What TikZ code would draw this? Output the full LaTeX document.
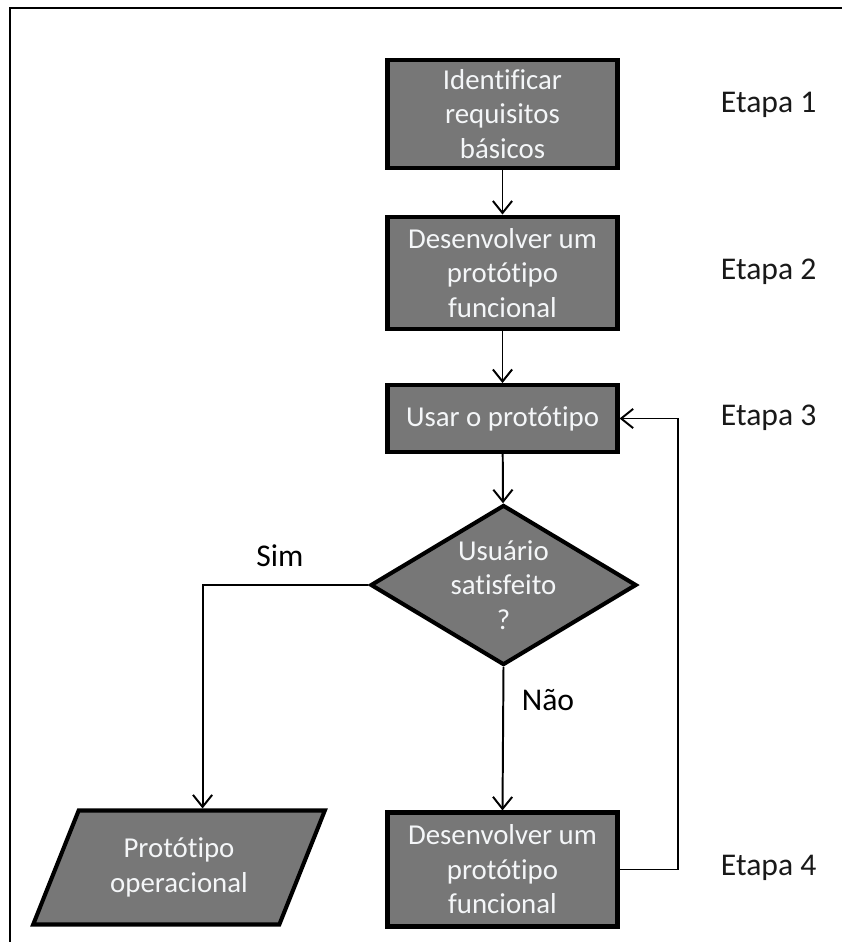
\documentclass[tikz,border=0pt]{standalone}
\usepackage{fontspec}
\setmainfont{Carlito}[Ligatures={NoCommon,NoRare}]
\usetikzlibrary{arrows.meta, positioning, shapes.geometric}
\definecolor{boxgray}{HTML}{777777}
\definecolor{boxtext}{HTML}{F4F6F8}

\begin{document}
\begin{tikzpicture}[x=0.025cm, y=-0.025cm,
    block/.style={rectangle, draw, line width=2.9pt, fill=boxgray, text=boxtext, align=center, minimum width=5.75cm, inner sep=2pt, font=\fontsize{20.5}{24.5}\selectfont},
    decision/.style={diamond, draw, line width=2.9pt, fill=boxgray, text=boxtext, align=center, aspect=1.67, inner sep=0pt, minimum width=6.65cm, minimum height=4cm, font=\fontsize{20.5}{24.5}\selectfont},
    result/.style={trapezium, trapezium left angle=64, trapezium right angle=116, trapezium stretches=true, draw, line width=2.9pt, fill=boxgray, text=boxtext, align=center, minimum width=7.3cm, minimum height=2.85cm, font=\fontsize{20.5}{24.5}\selectfont},
    stage/.style={anchor=west, text=black!90, font=\fontsize{22.5}{27}\selectfont},
    answer/.style={text=black, font=\fontsize{22.5}{27}\selectfont},
    flow/.style={line width=1.4pt, -{Straight Barb[length=3mm, width=4.8mm, line width=1.4pt]}}]
    \useasboundingbox (0,0) rectangle (842,942);
    \draw[line width=1.5pt] (10,942) -- (10,8) -- (842,8);

    % main column
    \node[block, minimum height=2.7cm] (ident) at (502.5,114) {Identificar\\requisitos\\básicos};
    \node[block, minimum height=2.82cm] (devel) at (502.5,273) {Desenvolver um\\protótipo\\funcional};
    \node[block, minimum height=1.67cm] (usar) at (502.5,418.5) {Usar o protótipo};
    \node[decision] (satisf) at (503.5,585) {Usuário\\satisfeito\\?};
    \node[block, minimum height=2.85cm] (revis) at (502.5,869.5) {Desenvolver um\\protótipo\\funcional};
    \node[result] (oper) at (179,867.5) {Protótipo\\operacional};

    % stage labels
    \node[stage] (et1) at (716,105) {Etapa 1};
    \node[stage] (et2) at (716,272) {Etapa 2};
    \node[stage] (et3) at (716,418) {Etapa 3};
    \node[stage] (et4) at (716,868) {Etapa 4};

    \node[answer] (sim) at (280,556) {Sim};
    \node[answer] (nao) at (548,700) {Não};

    \draw[flow] (ident) -- (devel);
    \draw[flow] (devel) -- (usar);
    \draw[flow] (usar) -- (satisf);
    \draw[flow] (satisf.west) -| (oper.top side);
    \draw[flow] (satisf.south) -- (revis.north);
    \draw[flow] (revis.east) -- ++(58,0) |- (usar.east);
\end{tikzpicture}
\end{document}
